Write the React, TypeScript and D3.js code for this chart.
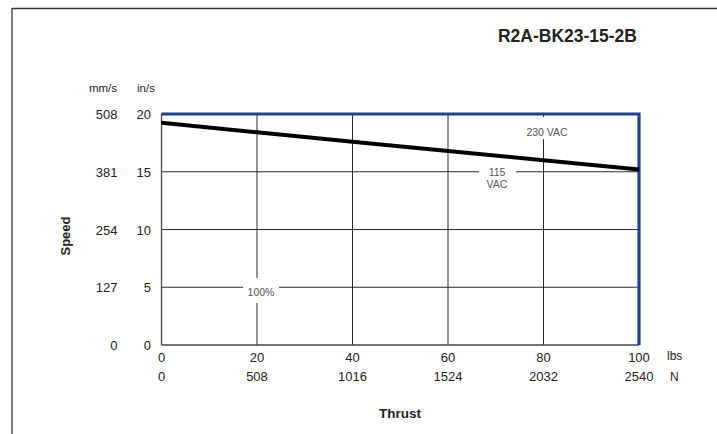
import React from "react";
import * as d3 from "d3";

const thrustLbs = [0, 20, 40, 60, 80, 100];
const thrustN = ["0", "508", "1016", "1524", "2032", "2540"];
const speedIn = [0, 5, 10, 15, 20];
const speedMm = ["0", "127", "254", "381", "508"];
const curveThrust = [0, 20, 40, 60, 80, 100];
const curveSpeed = [19.25, 18.42, 17.6, 16.8, 16.0, 15.2];
const title = "R2A-BK23-15-2B";

const W = 717, H = 434;
const FONT = "'Liberation Sans', Arial, Helvetica, sans-serif";

export default function App() {
  const x = d3.scaleLinear().domain([0, 100]).range([161.5, 639]);
  const y = d3.scaleLinear().domain([0, 20]).range([345, 114]);
  const line = d3.line<number>().x((_, i) => x(curveThrust[i])).y((d) => y(d));
  const path = line(curveSpeed) || "";
  const grid = "#2a2a2a";
  const blue = "#233f8c";
  const txt = "#222";

  return (
    <svg width={W} height={H} style={{ position: "absolute", left: 0, top: 0, background: "#fff" }} fontFamily={FONT}>
      {/* outer frame */}
      <line x1={12} y1={8.5} x2={W} y2={8.5} stroke="#333" strokeWidth={1.3} />
      <line x1={12} y1={8} x2={12} y2={H} stroke="#333" strokeWidth={1.3} />

      <text x={637} y={41.5} textAnchor="end" fontSize={17.5} fontWeight="bold" fill={txt}>{title}</text>

      {/* horizontal grid */}
      {speedIn.filter((v) => v > 0 && v < 20).map((v) => (
        <line key={"h" + v} x1={x(0)} x2={x(100)} y1={y(v)} y2={y(v)} stroke={grid} strokeWidth={1} />
      ))}
      {/* vertical grid */}
      {thrustLbs.filter((v) => v > 0 && v < 100).map((v) => (
        <line key={"v" + v} x1={x(v)} x2={x(v)} y1={y(20)} y2={y(0)} stroke={grid} strokeWidth={1} />
      ))}
      {/* axes */}
      <line x1={x(0)} x2={x(0)} y1={y(20)} y2={y(0)} stroke="#444" strokeWidth={1.3} />
      <line x1={x(0)} x2={x(100)} y1={y(0)} y2={y(0)} stroke="#444" strokeWidth={1.3} />

      {/* label gaps */}
      <rect x={243} y={278} width={36} height={25} fill="#fff" />
      <rect x={479} y={164} width={37} height={28} fill="#fff" />
      <rect x={521} y={117} width={51} height={22} fill="#fff" />

      {/* blue frame */}
      <path d={`M${x(0)},${y(20)}H${x(100)}V${y(0)}`} fill="none" stroke={blue} strokeWidth={3.2} />

      {/* curve */}
      <path d={path} fill="none" stroke="#000" strokeWidth={4} />

      {/* annotations */}
      <text x={261} y={295.5} textAnchor="middle" fontSize={10.5} fill="#555">100%</text>
      <text x={497} y={175.5} textAnchor="middle" fontSize={10.5} fill="#555">115</text>
      <text x={497} y={188} textAnchor="middle" fontSize={10.5} fill="#555">VAC</text>
      <text x={547} y={135.5} textAnchor="middle" fontSize={10.5} fill="#555">230  VAC</text>

      {/* y tick labels */}
      {speedIn.map((v, i) => (
        <g key={"yt" + v}>
          <text x={151} y={y(v) + 5} textAnchor="end" fontSize={13} fill={txt}>{v}</text>
          <text x={117.5} y={y(v) + 5} textAnchor="end" fontSize={13} fill={txt}>{speedMm[i]}</text>
        </g>
      ))}
      <text x={103} y={92} textAnchor="middle" fontSize={11.5} fill={txt}>mm/s</text>
      <text x={146} y={92} textAnchor="middle" fontSize={11.5} fill={txt}>in/s</text>

      {/* x tick labels */}
      {thrustLbs.map((v, i) => (
        <g key={"xt" + v}>
          <text x={x(v)} y={362} textAnchor="middle" fontSize={13} fill={txt}>{v}</text>
          <text x={x(v)} y={381} textAnchor="middle" fontSize={13} fill={txt}>{thrustN[i]}</text>
        </g>
      ))}
      <text x={667} y={360} fontSize={12} fill={txt}>lbs</text>
      <text x={670} y={381} fontSize={12} fill={txt}>N</text>

      <text x={400} y={418} textAnchor="middle" fontSize={13.5} fontWeight="bold" fill={txt}>Thrust</text>
      <text transform="translate(69.5,236) rotate(-90)" textAnchor="middle" fontSize={13} fontWeight="bold" fill={txt}>Speed</text>
    </svg>
  );
}
